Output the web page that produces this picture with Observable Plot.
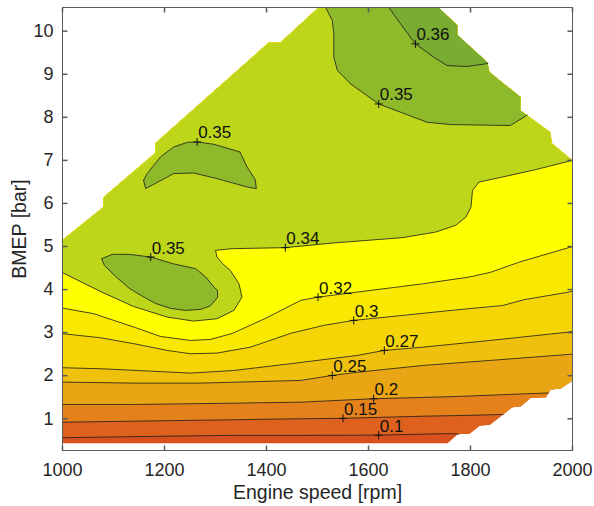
<!DOCTYPE html>
<html>
<head>
<meta charset="utf-8">
<script src="https://cdn.jsdelivr.net/npm/d3@7"></script>
<script src="https://cdn.jsdelivr.net/npm/@observablehq/plot@0.6"></script>
<style>
  html, body { margin: 0; padding: 0; background: #ffffff; }
  #chart { width: 594px; height: 506px; }
</style>
</head>
<body>
<div id="chart"></div>
<script>
// ---------- axes ----------
const xTicks = [1000, 1200, 1400, 1600, 1800, 2000];
const yTicks = [1, 2, 3, 4, 5, 6, 7, 8, 9, 10];
const xDomain = [1000, 2000];
const yDomain = [0.263, 10.55];
const xTitle = "Engine speed [rpm]";
const yTitle = "BMEP [bar]";

// ---------- measured region (counter-clockwise outline) ----------
const edgeRpm  = [1000, 1755, 1775, 1798, 1818, 1838, 1859, 1882, 1899, 1918, 1948, 1957, 1977, 2000,
                  2000, 1959, 1957, 1898, 1898, 1837, 1833, 1774, 1774, 1737,
                  1502, 1427, 1404, 1182, 1182, 1080, 1080, 1000];
const edgeBmep = [0.43, 0.43, 0.64, 0.65, 0.84, 0.86, 1.05, 1.27, 1.29, 1.49, 1.50, 1.68, 1.70, 1.89,
                  7.00, 7.40, 7.65, 8.16, 8.47, 9.05, 9.28, 9.91, 10.14, 10.55,
                  10.55, 9.73, 9.73, 7.40, 7.17, 6.14, 5.91, 5.15];

// ---------- contour levels (efficiency) and band colours ----------
const levels = [0.1, 0.15, 0.2, 0.25, 0.27, 0.3, 0.32, 0.34, 0.35, 0.36];
const bandColors = ["#D9501F", "#DE621D", "#E4811A", "#EAA514", "#F0C10C", "#F5D506",
                    "#F9E800", "#FFFF00", "#BDD61A", "#8EB92B", "#79AC31"];

// ---------- contour lines  [rpm, bmep] ----------
const line010 = [[1000,0.56],[1170,0.59],[1335,0.615],[1467,0.615],[1620,0.62],[1754,0.655],[1777,0.645]];
const line015 = [[1000,0.92],[1140,0.944],[1336,0.977],[1467,1.0],[1550,1.01],[1708,1.06],[1800,1.08],[1864,1.10]];
const line020 = [[1000,1.332],[1140,1.332],[1336,1.362],[1467,1.386],[1610,1.465],[1774,1.518],[1944,1.596],[1953,1.60]];
const line025 = [[1000,1.851],[1140,1.828],[1271,1.828],[1467,1.89],[1529,2.006],[1578,2.08],[1708,2.239],[1839,2.355],[1993,2.494],[2000,2.505]];
const line027 = [[1000,2.185],[1074,2.162],[1173,2.106],[1251,2.06],[1335,2.12],[1447,2.278],[1578,2.471],[1631,2.587],[1708,2.664],[1839,2.819],[1992,3.012],[2000,3.03]];
const line030 = [[1000,2.975],[1074,2.882],[1140,2.743],[1205,2.587],[1251,2.51],[1303,2.525],[1369,2.664],[1447,2.982],[1512,3.168],[1571,3.284],[1667,3.40],[1765,3.52],[1863,3.63],[1905,3.765],[1993,3.942],[2000,3.96]];
const line032 = [[1000,3.57],[1061,3.44],[1140,3.129],[1192,2.912],[1251,2.819],[1290,2.842],[1333,2.982],[1398,3.331],[1467,3.749],[1501,3.825],[1578,3.942],[1667,4.074],[1708,4.137],[1797,4.29],[1839,4.40],[1896,4.639],[2000,5.00]];
const line034 = [[1000,4.393],[1074,3.958],[1139,3.609],[1205,3.361],[1257,3.268],[1303,3.323],[1336,3.516],[1352,3.825],[1346,4.137],[1329,4.446],[1314,4.602],[1303,4.755],[1300,4.911],[1333,4.950],[1437,4.973],[1529,5.080],[1667,5.206],[1732,5.336],[1771,5.492],[1791,5.684],[1801,5.917],[1804,6.305],[1817,6.498],[1863,6.614],[1928,6.786],[2000,7.0]];
const line035 = [[1516,10.55],[1529,10.249],[1532,9.937],[1532,9.396],[1539,9.087],[1565,8.775],[1620,8.31],[1663,8.118],[1715,7.885],[1761,7.832],[1878,7.809],[1911,8.05]];
const line036 = [[1640,10.55],[1663,10.17],[1692,9.705],[1728,9.396],[1754,9.203],[1794,9.18],[1834,9.25]];
const island035a = [[1077,4.718],[1082,4.562],[1104,4.307],[1131,4.028],[1157,3.842],[1182,3.679],[1212,3.563],[1241,3.516],[1271,3.540],[1290,3.621],[1304,3.818],[1304,3.981],[1297,4.058],[1281,4.291],[1261,4.485],[1216,4.602],[1173,4.755],[1131,4.818],[1098,4.818],[1077,4.718]];
const island035b = [[1159,6.537],[1163,6.345],[1218,6.693],[1257,6.707],[1303,6.577],[1362,6.382],[1380,6.345],[1378,6.554],[1362,6.846],[1350,7.142],[1348,7.195],[1297,7.374],[1264,7.427],[1245,7.420],[1218,7.311],[1192,7.079],[1166,6.693],[1159,6.537]];

// ---------- contour labels ----------
const labelText = ["0.36", "0.35", "0.35", "0.35", "0.34", "0.32", "0.3", "0.27", "0.25", "0.2", "0.15", "0.1"];
const labelRpm  = [1692, 1620, 1264, 1173, 1437, 1501, 1571, 1631, 1529, 1610, 1550, 1620];
const labelBmep = [9.705, 8.31, 7.427, 4.755, 4.973, 3.825, 3.284, 2.587, 2.006, 1.465, 1.01, 0.62];

// ---------- build filled regions (painter's order, lowest level first) ----------
const outline = edgeRpm.map((r, i) => [r, edgeBmep[i]]);
function segDist(p, a, b) {
  const sx = 1 / 1000, sy = 1 / 10.3;
  const px = p[0] * sx, py = p[1] * sy, ax = a[0] * sx, ay = a[1] * sy, bx = b[0] * sx, by = b[1] * sy;
  const dx = bx - ax, dy = by - ay;
  const L = dx * dx + dy * dy;
  let t = L ? ((px - ax) * dx + (py - ay) * dy) / L : 0;
  t = Math.max(0, Math.min(1, t));
  const qx = ax + t * dx - px, qy = ay + t * dy - py;
  return Math.sqrt(qx * qx + qy * qy);
}
function nearestSeg(p) {
  let best = 0, bd = Infinity;
  for (let i = 0; i < outline.length; i++) {
    const d = segDist(p, outline[i], outline[(i + 1) % outline.length]);
    if (d < bd) { bd = d; best = i; }
  }
  return best;
}
function regionAbove(line) {
  const n = outline.length;
  const iS = nearestSeg(line[0]);
  const iE = nearestSeg(line[line.length - 1]);
  const pts = line.slice();
  let i = (iE + 1) % n;
  for (let k = 0; k < n; k++) {
    pts.push(outline[i]);
    if (i === iS) break;
    i = (i + 1) % n;
  }
  return pts;
}

const regions = [
  {pts: outline, color: bandColors[0]},
  {pts: regionAbove(line010), color: bandColors[1]},
  {pts: regionAbove(line015), color: bandColors[2]},
  {pts: regionAbove(line020), color: bandColors[3]},
  {pts: regionAbove(line025), color: bandColors[4]},
  {pts: regionAbove(line027), color: bandColors[5]},
  {pts: regionAbove(line030), color: bandColors[6]},
  {pts: regionAbove(line032), color: bandColors[7]},
  {pts: regionAbove(line034), color: bandColors[8]},
  {pts: regionAbove(line035), color: bandColors[9]},
  {pts: island035a, color: bandColors[9]},
  {pts: island035b, color: bandColors[9]},
  {pts: regionAbove(line036), color: bandColors[10]}
];
const contourLines = [line010, line015, line020, line025, line027, line030, line032, line034, line035, line036, island035a, island035b];

const labels = labelText.map((t, i) => ({text: t, rpm: labelRpm[i], bmep: labelBmep[i]}));

// tick / marker symbols (pixel-sized strokes)
const tickUp    = {draw(c) { c.moveTo(0, 0); c.lineTo(0, -5); }};
const tickDown  = {draw(c) { c.moveTo(0, 0); c.lineTo(0, 5); }};
const tickRight = {draw(c) { c.moveTo(0, 0); c.lineTo(5, 0); }};
const tickLeft  = {draw(c) { c.moveTo(0, 0); c.lineTo(-5, 0); }};
const plusMark  = {draw(c) { c.moveTo(-4, 0); c.lineTo(4, 0); c.moveTo(0, -4); c.lineTo(0, 4); }};

const axisColor = "#262626";
const boxColor = "#5a5a5a";

const chart = Plot.plot({
  width: 594,
  height: 506,
  marginLeft: 62,
  marginRight: 22,
  marginTop: 7,
  marginBottom: 56,
  style: {fontFamily: "'Liberation Sans', Arial, Helvetica, sans-serif", fontSize: "18px", color: axisColor, background: "#ffffff"},
  x: {domain: xDomain, ticks: xTicks, tickSize: 0, tickPadding: 13, tickFormat: d => String(d), label: null},
  y: {domain: yDomain, ticks: yTicks, tickSize: 0, tickPadding: 9, tickFormat: d => String(d), label: null},
  marks: [
    ...regions.map(r => Plot.line(r.pts, {x: d => d[0], y: d => d[1], fill: r.color, stroke: "none"})),
    ...contourLines.map(l => Plot.line(l, {x: d => d[0], y: d => d[1], stroke: "#1a1a1a", strokeWidth: 0.8})),
    Plot.dot(labels, {x: "rpm", y: "bmep", symbol: plusMark, fill: "none", stroke: "#111", strokeWidth: 1}),
    Plot.text(labels, {x: "rpm", y: "bmep", text: "text", textAnchor: "start", lineAnchor: "bottom", dx: 1, dy: -3.5, fontSize: 17, fill: "#111"}),
    Plot.frame({stroke: boxColor, strokeWidth: 1}),
    Plot.dot(xTicks, {x: d => d, frameAnchor: "bottom", symbol: tickUp, fill: "none", stroke: boxColor}),
    Plot.dot(xTicks, {x: d => d, frameAnchor: "top", symbol: tickDown, fill: "none", stroke: boxColor}),
    Plot.dot(yTicks, {y: d => d, frameAnchor: "left", symbol: tickRight, fill: "none", stroke: boxColor}),
    Plot.dot(yTicks, {y: d => d, frameAnchor: "right", symbol: tickLeft, fill: "none", stroke: boxColor}),
    Plot.text([xTitle], {frameAnchor: "bottom", text: d => d, textAnchor: "middle", lineAnchor: "bottom", dy: 48.5, fontSize: 19.5, fill: axisColor}),
    Plot.text([yTitle], {frameAnchor: "left", text: d => d, rotate: -90, textAnchor: "middle", lineAnchor: "middle", dx: -43, fontSize: 19.5, fill: axisColor})
  ]
});
document.getElementById("chart").appendChild(chart);
</script>
</body>
</html>
